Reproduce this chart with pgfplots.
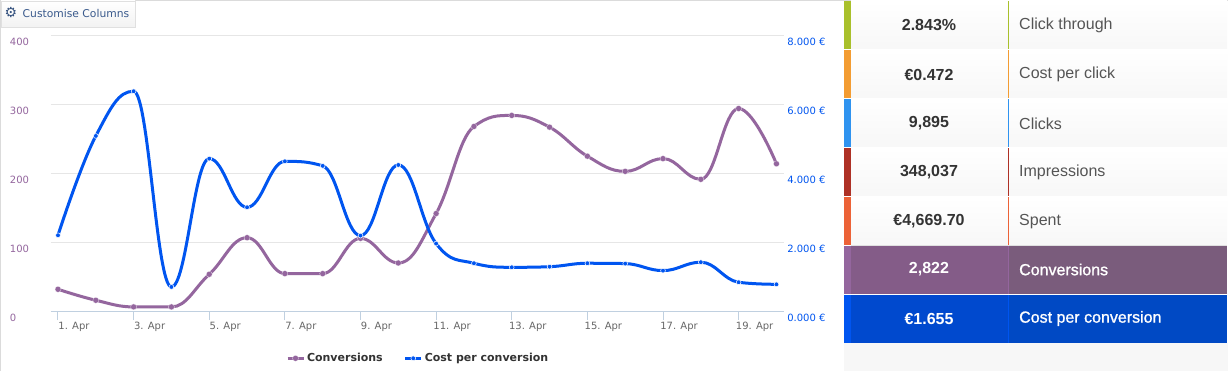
\documentclass[border=0pt]{standalone}
\usepackage{fontspec}
\usepackage{pgfplots}
\pgfplotsset{compat=1.18}
\setmainfont{Liberation Sans}
\newfontfamily\djv{DejaVu Sans}
\newfontfamily\fakeb[FakeBold=1.2]{Liberation Sans}
\definecolor{conv}{HTML}{94669E}
\definecolor{cost}{HTML}{0055F0}
\definecolor{gridc}{HTML}{E6E6E6}
\definecolor{axisc}{HTML}{C0D0E0}
\definecolor{lbl}{HTML}{555555}
\definecolor{val}{HTML}{333333}
\definecolor{btn}{HTML}{3A5A8C}
\definecolor{foot}{HTML}{F7F7F7}
\definecolor{cA}{HTML}{A9C02B}
\definecolor{cB}{HTML}{F39C32}
\definecolor{cC}{HTML}{2F93F0}
\definecolor{cD}{HTML}{AE3126}
\definecolor{cE}{HTML}{EC6237}
\definecolor{pA}{HTML}{845C88}
\definecolor{pB}{HTML}{7A5C7C}
\definecolor{bA}{HTML}{0049CE}
\definecolor{bB}{HTML}{0049C4}
% Spline plot handler that keeps the curve level at local extremes
\makeatletter
\newcount\hcN
\def\hcStart{\global\hcN=0\relax}
\def\hcJump{\hcEnd\global\hcN=0\relax}
\def\hcPoint#1{%
  \pgf@process{#1}%
  \edef\hcCx{\strip@pt\pgf@x}\edef\hcCy{\strip@pt\pgf@y}%
  \ifnum\hcN=0
    \pgfpathmoveto{\pgfqpoint{\hcCx pt}{\hcCy pt}}%
    \global\let\hcBx\hcCx\global\let\hcBy\hcCy
    \global\hcN=1\relax
  \else\ifnum\hcN=1
    \global\let\hcAx\hcBx\global\let\hcAy\hcBy
    \global\let\hcRx\hcBx\global\let\hcRy\hcBy
    \global\let\hcBx\hcCx\global\let\hcBy\hcCy
    \global\hcN=2\relax
  \else
    \pgfmathsetmacro\hcLx{(1.5*\hcBx+\hcAx)/2.5}%
    \pgfmathsetmacro\hcLy{(1.5*\hcBy+\hcAy)/2.5}%
    \pgfmathsetmacro\hcQx{(1.5*\hcBx+\hcCx)/2.5}%
    \pgfmathsetmacro\hcQy{(1.5*\hcBy+\hcCy)/2.5}%
    \pgfmathsetmacro\hcK{(\hcQx-\hcBx)/(\hcQx-\hcLx)*(\hcQy-\hcLy)+\hcBy-\hcQy}%
    \pgfmathsetmacro\hcLy{\hcLy+\hcK}%
    \pgfmathsetmacro\hcQy{\hcQy+\hcK}%
    \pgfmathsetmacro\hcMax{max(\hcAy,\hcBy)}\pgfmathsetmacro\hcMin{min(\hcAy,\hcBy)}%
    \pgfmathparse{\hcLy>\hcMax?1:0}\ifnum\pgfmathresult>0
      \let\hcLy\hcMax\pgfmathsetmacro\hcQy{2*\hcBy-\hcLy}\fi
    \pgfmathparse{\hcLy<\hcMin?1:0}\ifnum\pgfmathresult>0
      \let\hcLy\hcMin\pgfmathsetmacro\hcQy{2*\hcBy-\hcLy}\fi
    \pgfmathsetmacro\hcMax{max(\hcCy,\hcBy)}\pgfmathsetmacro\hcMin{min(\hcCy,\hcBy)}%
    \pgfmathparse{\hcQy>\hcMax?1:0}\ifnum\pgfmathresult>0
      \let\hcQy\hcMax\pgfmathsetmacro\hcLy{2*\hcBy-\hcQy}\fi
    \pgfmathparse{\hcQy<\hcMin?1:0}\ifnum\pgfmathresult>0
      \let\hcQy\hcMin\pgfmathsetmacro\hcLy{2*\hcBy-\hcQy}\fi
    \pgfpathcurveto{\pgfqpoint{\hcRx pt}{\hcRy pt}}{\pgfqpoint{\hcLx pt}{\hcLy pt}}{\pgfqpoint{\hcBx pt}{\hcBy pt}}%
    \global\let\hcRx\hcQx\global\let\hcRy\hcQy
    \global\let\hcAx\hcBx\global\let\hcAy\hcBy
    \global\let\hcBx\hcCx\global\let\hcBy\hcCy
  \fi\fi}
\def\hcEnd{\ifnum\hcN>1
    \pgfpathcurveto{\pgfqpoint{\hcRx pt}{\hcRy pt}}{\pgfqpoint{\hcBx pt}{\hcBy pt}}{\pgfqpoint{\hcBx pt}{\hcBy pt}}%
  \fi}
\pgfdeclareplothandler{\pgfplothandlerhc}{}{start=\hcStart,point macro=\hcPoint,jump=\hcJump,end=\hcEnd}
\tikzset{hcspline/.code={\let\tikz@plot@handler=\pgfplothandlerhc}}
\makeatother
\pgfplotstableread{
day conv
1 32.3
2 16.4
3 6.8
4 6.8
5 54
6 107
7 55
8 55
9 106
10 70.4
11 142
12 268
13 284
14 267
15 225
16 203
17 221.5
18 191.5
19 294
20 214
}\convtable
\pgfplotstableread{
day cost
1 2.21
2 5.086
3 6.38
4 0.714
5 4.43
6 3.02
7 4.35
8 4.22
9 2.20
10 4.246
11 1.97
12 1.40
13 1.283
14 1.30
15 1.40
16 1.39
17 1.187
18 1.43
19 0.85
20 0.79
}\costtable
\pgfplotsset{common/.style={
  at={(51pt,-311.6pt)},anchor=south west,scale only axis,
  width=733pt,height=276.3pt,
  xmin=0.815,xmax=20.2,ymin=0,
  clip=false,
  /pgf/number format/assume math mode=true,
  every tick label/.append style={font=\djv\fontsize{10}{12}\selectfont},
}}
\begin{document}
\begin{tikzpicture}
\begin{scope}[x=1pt,y=-1pt]
\fill[white] (0,0) rectangle (1228,371);
\path[use as bounding box] (0,0) rectangle (1228,371);
\fill[gray!28] (0,0) rectangle (1228,1);
\fill[gray!28] (0,0) rectangle (1,371);
% panel
\fill[foot] (844,343) rectangle (1228,371);
\foreach \t/\b/\c/\v/\l in {
 1/49/cA/2.843\%/Click through,
 50/98/cB/€0.472/Cost per click,
 99/147/cC/9{,}895/Clicks,
 148/196/cD/348{,}037/Impressions,
 197/245/cE/€4{,}669.70/Spent}{
  \shade[top color=white,bottom color=black!3] (851,\t) rectangle (1227,\b);
  \fill[\c] (844,\t) rectangle (851,\b);
  \fill[\c] (1008,\t) rectangle (1009,\b);
  \fill[black!12] (851,\b) rectangle (1227,\b+1);
  \node[font=\bfseries\fontsize{16}{19}\selectfont,text=val,inner sep=0pt] at (929,{(\t+\b)/2+0.5}) {\v};
  \node[font=\fontsize{16}{19}\selectfont,text=lbl,anchor=west,inner sep=0pt] at (1019,{(\t+\b)/2+0.5}) {\l};
}
\fill[pA] (851,246) rectangle (1008,294);
\fill[pB] (1008,246) rectangle (1227,294);
\fill[conv] (844,246) rectangle (851,294);
\fill[conv] (1008,246) rectangle (1009,294);
\fill[bA] (851,295) rectangle (1008,343);
\fill[bB] (1008,295) rectangle (1227,343);
\node[font=\bfseries\fontsize{16}{19}\selectfont,text=white,inner sep=0pt] at (929,269.5) {2,822};
\fill[cost] (844,295) rectangle (851,343);
\fill[cost] (1008,295) rectangle (1009,343);
\node[font=\fakeb\fontsize{16}{19}\selectfont,text=white,anchor=west,inner sep=0pt] at (1019,269.5) {Conversions};
\node[font=\bfseries\fontsize{16}{19}\selectfont,text=white,inner sep=0pt] at (929,318.5) {€1.655};
\node[font=\fakeb\fontsize{16}{19}\selectfont,text=white,anchor=west,inner sep=0pt] at (1019,318.5) {Cost per conversion};
% button
\fill[black!32] (2,3) rectangle (136,28);
\shade[top color=white,bottom color=black!5,draw=black!12,line width=0.6pt] (1,1) rectangle (135,27);
\node[font=\djv\fontsize{14}{16}\selectfont,text=btn!90!black,inner sep=0pt] at (11,13) {⚙};
\node[font=\djv\fontsize{10.75}{12}\selectfont,text=btn,anchor=west,inner sep=0pt] at (22.5,13) {Customise Columns};
\end{scope}
\begin{axis}[common,
  ymax=400,
  axis x line=bottom,axis y line=left,
  axis line style={-},
  x axis line style={draw=axisc,line width=1pt},
  y axis line style={draw=none},
  ytick={0,100,200,300,400},
  ymajorgrids,
  grid style={gridc,line width=1pt},
  ytick style={draw=none},
  yticklabel style={text=conv,anchor=west,xshift=-37pt,yshift=-6.5pt,inner sep=0pt},
  xtick={1,3,5,7,9,11,13,15,17,19},
  xticklabels={1. Apr,3. Apr,5. Apr,7. Apr,9. Apr,11. Apr,13. Apr,15. Apr,17. Apr,19. Apr},
  xtick align=outside,
  xtick style={draw=axisc,line width=1pt},
  major tick length=8.6pt,
  xticklabel style={text=black!60,xshift=16pt,yshift=-2pt,inner sep=0pt},
]
\addplot[hcspline,conv,line width=3pt,mark=*,mark size=3pt,
  mark options={fill=conv,draw=white,line width=0.2pt}] table[x=day,y=conv] {\convtable};
\end{axis}
\begin{axis}[common,
  ymax=8,
  axis x line=none,axis y line=right,
  y axis line style={draw=none},
  ytick={0,2,4,6,8},
  yticklabels={0.000 €,2.000 €,4.000 €,6.000 €,8.000 €},
  ytick style={draw=none},
  yticklabel style={text=cost,anchor=west,xshift=1pt,yshift=-6.5pt,inner sep=0pt},
  legend style={at={(0.3206,-0.169)},anchor=west,draw=none,fill=none,inner sep=0pt,outer sep=0pt,
    legend columns=-1,font=\djv\bfseries\fontsize{11}{13}\selectfont,text=black!80,
    /tikz/every even column/.append style={column sep=19pt}},
  legend cell align=left,
  legend image code/.code={
    \draw[#1,sharp plot,mark repeat=2,mark phase=2] plot coordinates {(0pt,0pt)(8pt,0pt)(16pt,0pt)};
  },
]
\addlegendimage{conv,line width=3pt,mark=*,mark size=3pt,mark options={fill=conv,draw=white,line width=0.2pt}}
\addlegendentry{Conversions}
\addplot[hcspline,cost,line width=3pt,mark=*,mark size=2.4pt,
  mark options={fill=cost,draw=white,line width=0.5pt}] table[x=day,y=cost] {\costtable};
\addlegendentry{Cost per conversion}
\end{axis}
\end{tikzpicture}
\end{document}
